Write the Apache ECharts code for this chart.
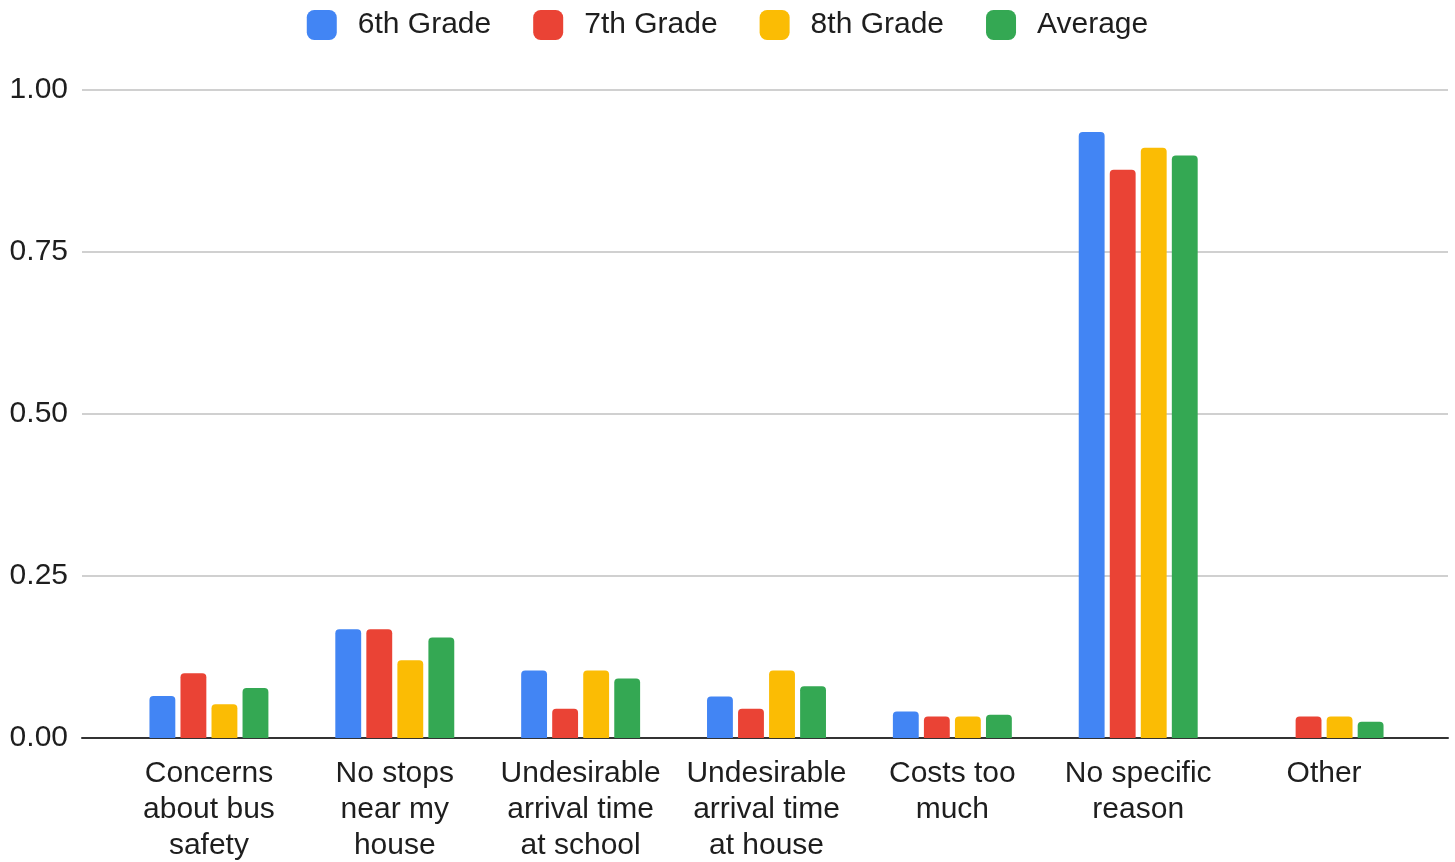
<!DOCTYPE html>
<html>
<head>
<meta charset="utf-8">
<script src="https://cdn.jsdelivr.net/npm/echarts@6/dist/echarts.min.js"></script>
<style>
html,body{margin:0;padding:0;background:#fff;}
#chart{width:1455px;height:862px;}
</style>
</head>
<body>
<div id="chart"></div>
<script>
const categories = [
  "Concerns\nabout bus\nsafety",
  "No stops\nnear my\nhouse",
  "Undesirable\narrival time\nat school",
  "Undesirable\narrival time\nat house",
  "Costs too\nmuch",
  "No specific\nreason",
  "Other"
];
const seriesNames = ["6th Grade", "7th Grade", "8th Grade", "Average"];
const grade6 = [0.065, 0.168, 0.104, 0.064, 0.041, 0.935, 0];
const grade7 = [0.100, 0.168, 0.045, 0.045, 0.033, 0.877, 0.033];
const grade8 = [0.052, 0.120, 0.104, 0.104, 0.033, 0.911, 0.033];
const average = [0.077, 0.155, 0.092, 0.080, 0.036, 0.899, 0.025];
const yTicks = [0, 0.25, 0.5, 0.75, 1.0];
const colors = ["#4285F4", "#EA4335", "#FBBC04", "#34A853"];

const seriesData = [grade6, grade7, grade8, average];
const font = "'Liberation Sans', Arial, sans-serif";
const txt = '#1e1e1e';

const chart = echarts.init(document.getElementById('chart'));
chart.setOption({
  animation: false,
  color: colors,
  legend: {
    top: 5,
    left: 'center',
    itemWidth: 30,
    itemHeight: 30,
    itemGap: 42,
    icon: 'roundRect',
    textStyle: { fontFamily: font, fontSize: 30, color: txt, padding: [0, 0, 0, 16] },
    data: seriesNames
  },
  grid: [
    { left: 82, right: 7, top: 90, bottom: 124, outerBoundsMode: 'none', containLabel: false },
    { left: 116, right: 38, top: 90, bottom: 124, outerBoundsMode: 'none', containLabel: false }
  ],
  xAxis: [
    {
      gridIndex: 0,
      type: 'value',
      min: 0, max: 1,
      axisLine: { show: true, onZero: false, lineStyle: { color: '#333', width: 2 } },
      axisTick: { show: false },
      axisLabel: { show: false },
      splitLine: { show: false }
    },
    {
      gridIndex: 1,
      type: 'category',
      data: categories,
      axisLine: { show: false },
      axisTick: { show: false },
      axisLabel: {
        fontFamily: font, fontSize: 30, color: txt, lineHeight: 36, margin: 18, interval: 0
      }
    }
  ],
  yAxis: [
    {
      gridIndex: 0,
      type: 'value',
      min: 0,
      max: 1,
      interval: 0.25,
      axisLine: { show: false },
      axisTick: { show: false },
      splitLine: { lineStyle: { color: '#d0d0d0', width: 2 } },
      axisLabel: {
        fontFamily: font, fontSize: 30, color: txt, margin: 14,
        padding: [4, 0, 0, 0],
        formatter: v => v.toFixed(2)
      }
    },
    {
      gridIndex: 1,
      type: 'value',
      min: 0,
      max: 1,
      interval: 0.25,
      axisLine: { show: false },
      axisTick: { show: false },
      splitLine: { show: false },
      axisLabel: { show: false }
    }
  ],
  series: seriesData.map((d, i) => ({
    name: seriesNames[i],
    type: 'bar',
    xAxisIndex: 1,
    yAxisIndex: 1,
    data: d,
    barGap: '20%',
    barCategoryGap: '36%',
    itemStyle: { borderRadius: [4, 4, 0, 0] }
  }))
});
</script>
</body>
</html>
